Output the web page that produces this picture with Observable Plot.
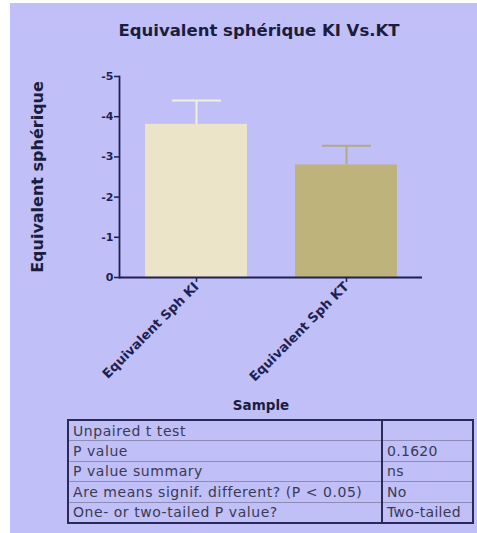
<!DOCTYPE html>
<html>
<head>
<meta charset="utf-8">
<script src="https://cdn.jsdelivr.net/npm/d3@7"></script>
<script src="https://cdn.jsdelivr.net/npm/@observablehq/plot@0.6"></script>
<style>
  html, body { margin: 0; padding: 0; background: white; }
  #wrap { position: relative; width: 477px; height: 533px; background: white; overflow: hidden; }
  #bg { position: absolute; left: 10px; top: 3px; width: 467px; height: 530px; background: #c0bff8; }
  #chart { position: absolute; left: 0; top: 0; }
  #tbl { position: absolute; left: 67px; top: 419px; width: 407px;
         border-collapse: collapse; border: 2px solid #2a2a58;
         font-family: "DejaVu Sans", sans-serif; font-size: 14px; letter-spacing: 0.55px; color: #3a3a52; }
  #tbl td { padding: 0 0 0 4px; height: 19.4px; line-height: 18px; border-top: 1px solid #8c8cb4; white-space: nowrap; }
  #tbl td.v { border-left: 2px solid #2a2a58; letter-spacing: 0.3px; }
</style>
</head>
<body>
<div id="wrap">
  <div id="bg"></div>
  <div id="chart"></div>
  <table id="tbl"></table>
</div>
<script>
const title = "Equivalent sphérique KI Vs.KT";
const yLabel = "Equivalent sphérique";
const xLabel = "Sample";
const samples = ["Equivalent Sph KI", "Equivalent Sph KT"];
const means = [-3.81, -2.80];
const sems = [0.59, 0.48];
const barColors = ["#ebe4c9", "#bfb37c"];
const errColors = ["#f3efdf", "#b3a985"];
const yTicks = [0, -1, -2, -3, -4, -5];
const tableLabels = ["Unpaired t test", "P value", "P value summary", "Are means signif. different? (P < 0.05)", "One- or two-tailed P value?"];
const tableValues = ["", "0.1620", "ns", "No", "Two-tailed"];

const data = samples.map((s, i) => ({sample: s, mean: means[i], sem: sems[i], fill: barColors[i], err: errColors[i]}));
const navy = "#1f1f52";

const chart = Plot.plot({
  width: 477,
  height: 415,
  marginTop: 76,
  marginBottom: 138,
  marginLeft: 119,
  marginRight: 55,
  style: {background: "transparent", color: navy, fontFamily: "DejaVu Sans, sans-serif", overflow: "visible"},
  x: {domain: samples, paddingInner: 0.32, paddingOuter: 0.17, axis: null},
  y: {domain: [0, -5], axis: null},
  marks: [
    Plot.barY(data, {x: "sample", y: "mean", fill: d => d.fill}),
    Plot.ruleX(data, {x: "sample", y1: "mean", y2: d => d.mean - d.sem, stroke: d => d.err, strokeWidth: 2}),
    Plot.tickY(data, {x: "sample", y: d => d.mean - d.sem, stroke: d => d.err, strokeWidth: 2, insetLeft: 27, insetRight: 26}),
    Plot.axisY({ticks: yTicks, tickFormat: d => String(d), tickSize: 5, tickPadding: 1, fontSize: 11, fontWeight: "bold", stroke: navy, strokeWidth: 1.5, label: null}),
    Plot.axisX({tickRotate: -45, tickSize: 5, tickPadding: 2, fontSize: 13, fontWeight: "bold", stroke: navy, strokeWidth: 1.5, label: null}),
    Plot.frame({anchor: "left", stroke: navy, strokeWidth: 1.8}),
    Plot.ruleY([0], {stroke: navy, strokeWidth: 1.8}),
    Plot.text([title], {text: d => d, frameAnchor: "top", dx: -12, dy: -52, fontSize: 16.5, fontWeight: "bold", fill: "#1c1c3c"}),
    Plot.text([yLabel], {text: d => d, frameAnchor: "left", textAnchor: "middle", lineAnchor: "middle", rotate: -90, dx: -82, fontSize: 16, fontWeight: "bold", fill: "#1c1c3c"}),
    Plot.text([xLabel], {text: d => d, frameAnchor: "bottom", dx: -10, dy: 132, fontSize: 13.5, fontWeight: "bold", fill: "#1c1c3c"})
  ]
});
document.getElementById("chart").appendChild(chart);

const tbl = document.getElementById("tbl");
tableLabels.forEach((lab, i) => {
  const tr = document.createElement("tr");
  const a = document.createElement("td"); a.textContent = lab; a.style.width = "308px";
  const b = document.createElement("td"); b.textContent = tableValues[i]; b.className = "v";
  if (i === 0) { a.style.borderTop = "none"; b.style.borderTop = "none"; }
  tr.appendChild(a); tr.appendChild(b); tbl.appendChild(tr);
});
</script>
</body>
</html>
